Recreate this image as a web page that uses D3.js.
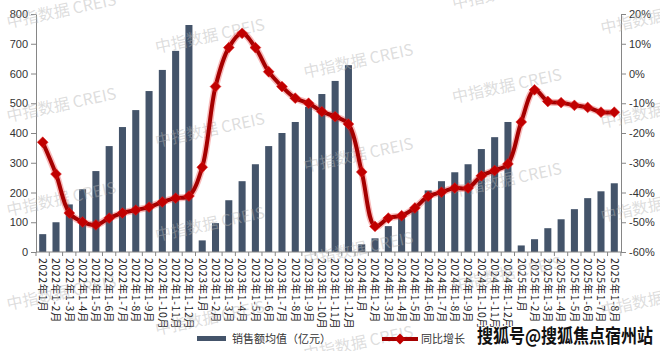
<!DOCTYPE html>
<html>
<head>
<meta charset="utf-8">
<script src="https://cdn.jsdelivr.net/npm/d3@7"></script>
<style>
  body { margin: 0; background: #fff; }
  svg { display: block; font-family: "Liberation Sans", "Noto Sans CJK SC", sans-serif; }
</style>
</head>
<body>
<svg></svg>
<script>
let years = ["2022", "2023", "2024", "2025"]
let monthsPerYear = [12, 12, 12, 8]

let categories = []
years.forEach((y, i) => {
    for (let m = 1; m <= monthsPerYear[i]; m++) {
        categories.push(m == 1 ? y + "年1月" : y + "年1-" + m + "月")
    }
})

let salesAvg = [60, 100, 160, 211, 272, 356, 420, 477, 541, 612, 676, 763,
    39, 97, 174, 238, 295, 356, 400, 437, 488, 531, 575, 628,
    26, 46, 87, 118, 140, 207, 238, 268, 295, 346, 386, 437,
    22, 43, 80, 110, 144, 181, 204, 231]

let yoyGrowth = [-23.1, -33.8, -46.9, -49.9, -50.9, -48.6, -46.9, -45.9, -44.9, -43.2, -41.9, -41.2,
    -31.5, -4.4, 8.7, 13.5, 8.7, 0.6, -4.4, -8.3, -10.0, -12.8, -14.5, -17.0,
    -33.1, -51.4, -48.6, -47.8, -45.2, -41.3, -39.9, -38.5, -38.5, -34.4, -32.6, -30.4,
    -16.3, -5.5, -9.4, -9.8, -10.7, -11.4, -13.0, -13.0]

let leftTicks = [0, 100, 200, 300, 400, 500, 600, 700, 800]
let rightTicks = [-60, -50, -40, -30, -20, -10, 0, 10, 20]

let barName = "销售额均值（亿元）"
let lineName = "同比增长"
let watermark = "中指数据 CREIS"
let sourceMark = "搜狐号@搜狐焦点宿州站"

let width = 660
let height = 351
let plotLeft = 36
let plotRight = 621
let plotTop = 14
let plotBottom = 252

let axisColor = "#868686"
let barColor = "#44546a"
let lineColor = "#a50000"
let markColor = "#c00000"

let svg = d3.select("svg").attr("width", width).attr("height", height)

let xScale = d3.scaleBand().domain(categories).range([plotLeft, plotRight]).paddingInner(0.47).paddingOuter(0.24)
let yLeft = d3.scaleLinear().domain([0, 800]).range([plotBottom, plotTop])
let yRight = d3.scaleLinear().domain([-60, 20]).range([plotBottom, plotTop])

// bars
svg.append("g").selectAll("rect")
    .data(salesAvg)
    .enter()
    .append("rect")
    .attr("x", (d, i) => xScale(categories[i]))
    .attr("width", xScale.bandwidth())
    .attr("y", d => yLeft(d))
    .attr("height", d => plotBottom - yLeft(d))
    .attr("fill", barColor)

// axes
let leftAxis = d3.axisLeft(yLeft).tickValues(leftTicks).tickSize(5).tickSizeOuter(0)
let gl = svg.append("g").attr("transform", "translate(" + plotLeft + ",0)").call(leftAxis)

let rightAxis = d3.axisRight(yRight).tickValues(rightTicks).tickSize(5).tickSizeOuter(0).tickFormat(d => d + "%")
let gr = svg.append("g").attr("transform", "translate(" + plotRight + ",0)").call(rightAxis)

let gx = svg.append("g").attr("transform", "translate(0," + plotBottom + ")")
gx.append("line").attr("x1", plotLeft).attr("x2", plotRight).attr("stroke", axisColor)
let step = xScale.step()
let x0 = xScale(categories[0]) - xScale.paddingOuter() * step
gx.selectAll(".tk")
    .data(d3.range(categories.length + 1))
    .enter()
    .append("line")
    .attr("x1", i => x0 + i * step)
    .attr("x2", i => x0 + i * step)
    .attr("y1", 0)
    .attr("y2", 4)
    .attr("stroke", axisColor)

gx.selectAll("text")
    .data(categories)
    .enter()
    .append("text")
    .attr("transform", d => "translate(" + (xScale(d) + xScale.bandwidth() / 2) + ",6) rotate(90)")
    .attr("dy", "0.35em")
    .attr("font-family", "'Noto Sans CJK SC', sans-serif")
    .attr("font-size", 10.5)
    .attr("letter-spacing", 0.6)
    .attr("fill", "#222")
    .text(d => d)

;[gl, gr].forEach(g => {
    g.select(".domain").attr("stroke", axisColor)
    g.selectAll(".tick line").attr("stroke", axisColor)
    g.selectAll(".tick text").attr("font-size", 11).attr("fill", "#333")
})

// watermarks (under the marks, faint)
let wm = svg.append("g").attr("font-family", "'Noto Sans CJK SC', sans-serif").attr("font-size", 16)
    .attr("fill", "#b4b4b4").attr("fill-opacity", 0.45)
for (let c = 0; c < 5; c++) {
    for (let r = -1; r < 5; r++) {
        let wx = 8 + c * 148.5
        let wy = 28 + ((25 * c) % 94) + r * 94
        if (wy < 5 || wy > 360) continue
        wm.append("text")
            .attr("transform", "translate(" + wx + "," + wy + ") rotate(-12)")
            .text(watermark)
    }
}

// line with glow
let line = d3.line()
    .x((d, i) => xScale(categories[i]) + xScale.bandwidth() / 2)
    .y(d => yRight(d))
    .curve(d3.curveCatmullRom.alpha(0.5))

svg.append("path").datum(yoyGrowth).attr("d", line)
    .attr("fill", "none").attr("stroke", "#e82020").attr("stroke-opacity", 0.3).attr("stroke-width", 7)
svg.append("path").datum(yoyGrowth).attr("d", line)
    .attr("fill", "none").attr("stroke", lineColor).attr("stroke-width", 4)

let diamond = d3.symbol().type(d3.symbolDiamond2).size(75)
svg.append("g").selectAll("path")
    .data(yoyGrowth)
    .enter()
    .append("path")
    .attr("d", diamond)
    .attr("transform", (d, i) => "translate(" + (xScale(categories[i]) + xScale.bandwidth() / 2) + "," + yRight(d) + ")")
    .attr("fill", markColor)
    .attr("stroke", "#e02020")
    .attr("stroke-opacity", 0.5)
    .attr("stroke-width", 1)

// legend
let lg = svg.append("g").attr("font-family", "'Noto Sans CJK SC', sans-serif").attr("font-size", 11).attr("fill", "#333")
lg.append("rect").attr("x", 197).attr("y", 336).attr("width", 29).attr("height", 5).attr("fill", barColor)
lg.append("text").attr("x", 232).attr("y", 343).text(barName)
lg.append("line").attr("x1", 382).attr("x2", 418).attr("y1", 339).attr("y2", 339)
    .attr("stroke", lineColor).attr("stroke-width", 4)
lg.append("path").attr("d", diamond).attr("transform", "translate(400,339)").attr("fill", markColor)
lg.append("text").attr("x", 421).attr("y", 343).text(lineName)

svg.append("text")
    .attr("x", 477).attr("y", 343)
    .attr("font-family", "'Noto Sans CJK SC', sans-serif")
    .attr("font-size", 19).attr("font-weight", "bold")
    .attr("textLength", 176).attr("lengthAdjust", "spacingAndGlyphs")
    .attr("fill", "#111").attr("stroke", "#fff").attr("stroke-width", 2).attr("paint-order", "stroke")
    .text(sourceMark)
</script>
</body>
</html>
